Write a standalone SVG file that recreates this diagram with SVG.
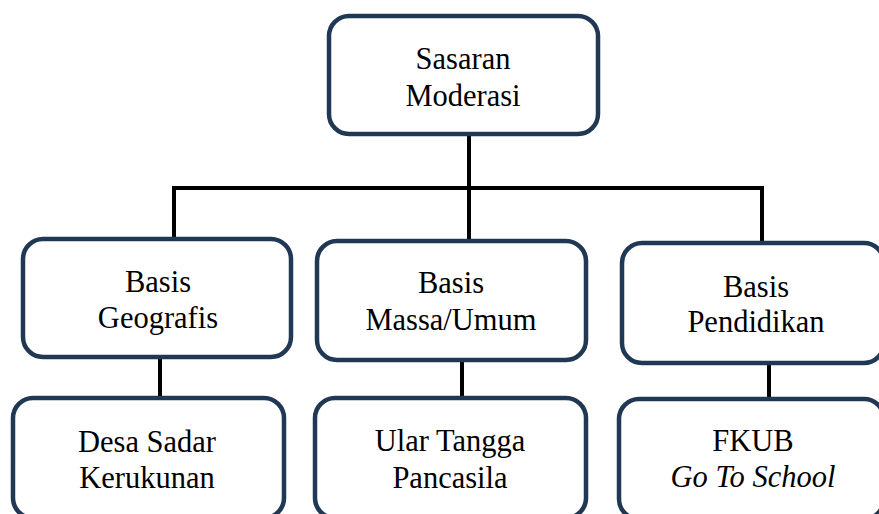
<svg xmlns="http://www.w3.org/2000/svg" width="879" height="514" viewBox="0 0 879 514">
<style>
.box{fill:#fff;stroke:#203853;stroke-width:4.5}
.ln{stroke:#000;stroke-width:4;fill:none;stroke-linecap:butt}
.t{font-size:30.5px;fill:#000;text-anchor:middle}
.it{font-style:italic}
</style>
<rect width="879" height="514" fill="#fff"/>
<g id="connectors">
<line class="ln" x1="469" y1="134" x2="469" y2="241"/>
<line class="ln" x1="172" y1="188" x2="764" y2="188"/>
<line class="ln" x1="174" y1="186" x2="174" y2="239"/>
<line class="ln" x1="762" y1="186" x2="762" y2="243"/>
<line class="ln" x1="160" y1="357" x2="160" y2="398"/>
<line class="ln" x1="462" y1="360" x2="462" y2="398"/>
<line class="ln" x1="769" y1="363" x2="769" y2="399"/>
</g>
<g font-family="Liberation Serif, serif">
<g id="sasaran">
<rect class="box" x="329" y="16" width="269" height="118" rx="20"/>
<text class="t" x="463" y="69">Sasaran</text>
<text class="t" x="463" y="106">Moderasi</text>
</g>
<g id="geografis">
<rect class="box" x="23" y="239" width="268" height="118" rx="20"/>
<text class="t" x="158" y="292">Basis</text>
<text class="t" x="158" y="328">Geografis</text>
</g>
<g id="massa">
<rect class="box" x="317" y="241" width="269" height="119" rx="20"/>
<text class="t" x="451" y="293">Basis</text>
<text class="t" x="451" y="330">Massa/Umum</text>
</g>
<g id="pendidikan">
<rect class="box" x="622" y="243" width="262" height="120" rx="20"/>
<text class="t" x="756" y="297">Basis</text>
<text class="t" x="756" y="332">Pendidikan</text>
</g>
<g id="desa">
<rect class="box" x="13" y="398" width="271" height="120" rx="20"/>
<text class="t" x="147" y="452">Desa Sadar</text>
<text class="t" x="147" y="488">Kerukunan</text>
</g>
<g id="ular">
<rect class="box" x="315" y="398" width="271" height="120" rx="20"/>
<text class="t" x="450" y="451">Ular Tangga</text>
<text class="t" x="450" y="488">Pancasila</text>
</g>
<g id="fkub">
<rect class="box" x="619" y="399" width="265" height="120" rx="20"/>
<text class="t" x="753" y="451">FKUB</text>
<text class="t it" x="753" y="487">Go To School</text>
</g>
</g>
</svg>
